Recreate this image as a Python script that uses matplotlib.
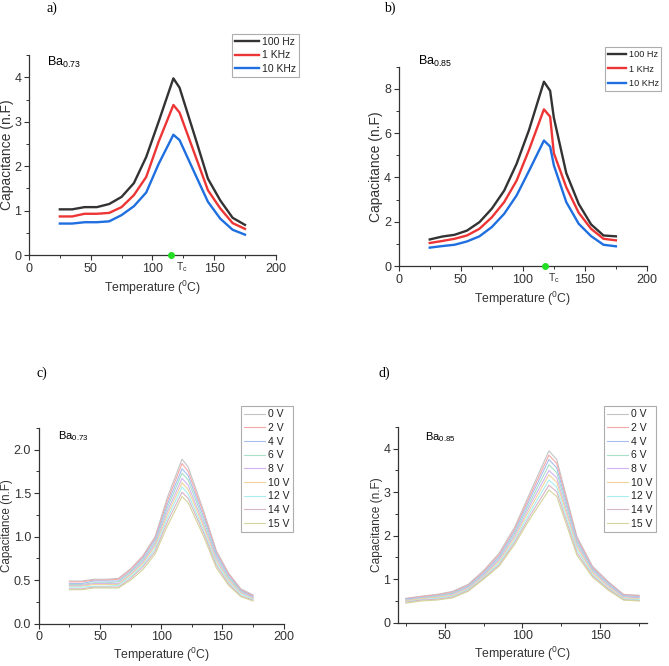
import matplotlib
matplotlib.use("Agg")
from matplotlib import pyplot as plt
from matplotlib.ticker import MultipleLocator

plt.rcParams['font.family'] = ['Liberation Sans', 'DejaVu Sans']
plt.rcParams['mathtext.fontset'] = 'custom'
plt.rcParams['mathtext.rm'] = 'Liberation Sans'
plt.rcParams['mathtext.it'] = 'Liberation Sans'

# temperature points (deg C)
temps = [25, 35, 45, 55, 65, 75, 85, 95, 105, 117, 122, 135, 145, 155, 165, 175]
temps_b = [25, 35, 45, 55, 65, 75, 85, 95, 105, 117, 122, 125, 135, 145, 155, 165, 175]

freq_labels = ['100 Hz', '1 KHz', '10 KHz']
freq_colors = ['#333333', '#ee3535', '#1f6fe0']

# a) Ba0.73, frequency dependence
cap_a_100hz = [1.03, 1.03, 1.08, 1.08, 1.15, 1.31, 1.62, 2.21, 3.00, 3.98, 3.77, 2.62, 1.72, 1.23, 0.84, 0.68]
cap_a_1khz = [0.87, 0.87, 0.93, 0.93, 0.95, 1.08, 1.35, 1.76, 2.55, 3.38, 3.21, 2.22, 1.46, 1.05, 0.72, 0.59]
cap_a_10khz = [0.71, 0.71, 0.74, 0.74, 0.76, 0.90, 1.10, 1.41, 2.05, 2.71, 2.59, 1.80, 1.20, 0.82, 0.57, 0.46]

# b) Ba0.85, frequency dependence
cap_b_100hz = [1.20, 1.33, 1.41, 1.60, 1.98, 2.59, 3.41, 4.62, 6.15, 8.33, 7.92, 6.70, 4.20, 2.81, 1.88, 1.38, 1.34]
cap_b_1khz = [1.04, 1.13, 1.23, 1.38, 1.68, 2.20, 2.89, 3.86, 5.25, 7.08, 6.75, 5.10, 3.56, 2.41, 1.68, 1.23, 1.16]
cap_b_10khz = [0.83, 0.90, 0.96, 1.11, 1.34, 1.76, 2.36, 3.19, 4.30, 5.67, 5.40, 4.55, 2.89, 1.91, 1.35, 0.96, 0.89]

tc_a = 115
tc_b = 118

volt_labels = ['0 V', '2 V', '4 V', '6 V', '8 V', '10 V', '12 V', '14 V', '15 V']
volt_colors = ['#c4c4c4', '#f5a8a8', '#a8bff0', '#a8e0c8', '#d4b4f0',
               '#f2d49c', '#a8eef0', '#d8b4c8', '#d4d49c']

# c) Ba0.73, bias voltage dependence
cap_c = [
    [0.49, 0.49, 0.51, 0.51, 0.52, 0.63, 0.78, 1.00, 1.45, 1.89, 1.80, 1.28, 0.84, 0.58, 0.40, 0.33],
    [0.48, 0.48, 0.50, 0.50, 0.51, 0.62, 0.77, 0.98, 1.41, 1.84, 1.75, 1.25, 0.82, 0.57, 0.39, 0.32],
    [0.46, 0.46, 0.49, 0.49, 0.49, 0.60, 0.75, 0.96, 1.37, 1.78, 1.70, 1.21, 0.80, 0.55, 0.38, 0.31],
    [0.45, 0.45, 0.47, 0.47, 0.48, 0.59, 0.73, 0.93, 1.33, 1.73, 1.65, 1.17, 0.77, 0.53, 0.37, 0.30],
    [0.44, 0.44, 0.46, 0.46, 0.46, 0.57, 0.71, 0.91, 1.29, 1.67, 1.59, 1.13, 0.75, 0.51, 0.36, 0.30],
    [0.43, 0.43, 0.45, 0.45, 0.45, 0.56, 0.69, 0.89, 1.25, 1.62, 1.54, 1.10, 0.72, 0.50, 0.35, 0.29],
    [0.42, 0.42, 0.43, 0.43, 0.44, 0.54, 0.67, 0.86, 1.21, 1.57, 1.49, 1.06, 0.70, 0.48, 0.34, 0.28],
    [0.40, 0.40, 0.42, 0.42, 0.42, 0.52, 0.65, 0.83, 1.17, 1.51, 1.44, 1.03, 0.67, 0.46, 0.32, 0.27],
    [0.39, 0.39, 0.41, 0.41, 0.41, 0.50, 0.62, 0.80, 1.12, 1.46, 1.39, 0.99, 0.64, 0.44, 0.31, 0.26],
]

# d) Ba0.85, bias voltage dependence
cap_d = [
    [0.56, 0.61, 0.65, 0.72, 0.88, 1.20, 1.60, 2.20, 3.00, 3.95, 3.75, 1.98, 1.30, 0.95, 0.65, 0.63],
    [0.55, 0.60, 0.64, 0.70, 0.86, 1.17, 1.56, 2.15, 2.93, 3.85, 3.66, 1.94, 1.27, 0.93, 0.64, 0.62],
    [0.54, 0.58, 0.62, 0.68, 0.84, 1.14, 1.52, 2.10, 2.86, 3.75, 3.56, 1.89, 1.24, 0.91, 0.62, 0.60],
    [0.52, 0.57, 0.61, 0.67, 0.82, 1.11, 1.48, 2.05, 2.78, 3.63, 3.45, 1.84, 1.21, 0.88, 0.60, 0.58],
    [0.51, 0.56, 0.59, 0.65, 0.80, 1.09, 1.45, 2.00, 2.71, 3.50, 3.33, 1.79, 1.18, 0.86, 0.59, 0.57],
    [0.50, 0.55, 0.58, 0.63, 0.78, 1.06, 1.41, 1.95, 2.63, 3.40, 3.23, 1.74, 1.15, 0.83, 0.57, 0.55],
    [0.48, 0.53, 0.56, 0.61, 0.76, 1.04, 1.37, 1.90, 2.55, 3.28, 3.12, 1.68, 1.11, 0.80, 0.55, 0.53],
    [0.47, 0.52, 0.54, 0.59, 0.74, 1.02, 1.33, 1.85, 2.47, 3.16, 3.01, 1.61, 1.08, 0.78, 0.53, 0.51],
    [0.45, 0.50, 0.52, 0.57, 0.72, 1.00, 1.30, 1.80, 2.40, 3.05, 2.90, 1.55, 1.05, 0.75, 0.52, 0.50],
]


def style_axes(ax, xlim, ylim, xmaj, ymaj, ylab_size, xpad=3):
    ax.set_xlim(*xlim)
    ax.set_ylim(*ylim)
    for s in ['top', 'right']:
        ax.spines[s].set_visible(False)
    for s in ['left', 'bottom']:
        ax.spines[s].set_color('#333333')
        ax.spines[s].set_linewidth(0.9)
    ax.xaxis.set_major_locator(MultipleLocator(xmaj))
    ax.xaxis.set_minor_locator(MultipleLocator(xmaj / 2))
    ax.yaxis.set_major_locator(MultipleLocator(ymaj))
    ax.yaxis.set_minor_locator(MultipleLocator(ymaj / 2))
    ax.tick_params(which='major', direction='out', length=3.5, width=0.8,
                   labelsize=9, colors='#333333', pad=2)
    ax.tick_params(which='minor', direction='out', length=2, width=0.7, colors='#333333')
    ax.set_xlabel('Temperature ($^{0}$C)', fontsize=8.8, color='#333333', labelpad=xpad)
    ax.set_ylabel('Capacitance (n.F)', fontsize=ylab_size, color='#333333', labelpad=0.5)


def add_legend(ax, fig, anchor, fs, hl, ls):
    leg = ax.legend(loc='upper left', bbox_to_anchor=anchor, bbox_transform=fig.transFigure,
                    fontsize=fs, frameon=True, fancybox=False, handlelength=hl,
                    handletextpad=0.3, labelspacing=ls, borderpad=0.3,
                    borderaxespad=0)
    leg.get_frame().set_edgecolor('#999999')
    leg.get_frame().set_linewidth(0.8)
    for t in leg.get_texts():
        t.set_color('#222222')
    return leg


fig = plt.figure(figsize=(6.69, 6.66), dpi=100)

ax_a = fig.add_axes([0.0433, 0.617, 0.369, 0.300])
ax_b = fig.add_axes([0.596, 0.6006, 0.371, 0.299])
ax_c = fig.add_axes([0.058, 0.0636, 0.366, 0.294])
ax_d = fig.add_axes([0.595, 0.065, 0.372, 0.294])

# a)
for y, lab, c in zip([cap_a_100hz, cap_a_1khz, cap_a_10khz], freq_labels, freq_colors):
    ax_a.plot(temps, y, color=c, lw=1.7, label=lab)
style_axes(ax_a, (0, 200), (0, 4.5), 50, 1, 10)
ax_a.plot([tc_a], [0], 'o', color='#22dd22', ms=4, clip_on=False, zorder=6)
ax_a.text(tc_a + 4, -0.12, 'T$_c$', fontsize=7.5, color='#333333', va='top', ha='left')
ax_a.text(0.072, 0.965, 'Ba$_{0.73}$', transform=ax_a.transAxes, fontsize=9, va='center')
add_legend(ax_a, fig, (0.347, 0.949), 7.5, 2.3, 0.32)

# b)
for y, lab, c in zip([cap_b_100hz, cap_b_1khz, cap_b_10khz], freq_labels, freq_colors):
    ax_b.plot(temps_b, y, color=c, lw=1.7, label=lab)
style_axes(ax_b, (0, 200), (0, 9), 50, 2, 10)
ax_b.plot([tc_b], [0], 'o', color='#22dd22', ms=4, clip_on=False, zorder=6)
ax_b.text(tc_b + 2, -0.25, 'T$_c$', fontsize=7.5, color='#333333', va='top', ha='left')
ax_b.text(0.077, 1.025, 'Ba$_{0.85}$', transform=ax_b.transAxes, fontsize=9, va='center')
add_legend(ax_b, fig, (0.904, 0.929), 6.6, 2.0, 0.6)

# c)
for y, lab, c in zip(cap_c, volt_labels, volt_colors):
    ax_c.plot(temps, y, color=c, lw=0.8, label=lab)
style_axes(ax_c, (0, 200), (0, 2.25), 50, 0.5, 8.4, xpad=2)
ax_c.text(0.077, 0.96, 'Ba$_{0.73}$', transform=ax_c.transAxes, fontsize=8, va='center')
add_legend(ax_c, fig, (0.360, 0.390), 7.5, 2.0, 0.35)

# d)
for y, lab, c in zip(cap_d, volt_labels, volt_colors):
    ax_d.plot(temps, y, color=c, lw=0.8, label=lab)
style_axes(ax_d, (20, 180), (0, 4.5), 50, 1, 8.6, xpad=2)
ax_d.xaxis.set_minor_locator(MultipleLocator(25))
ax_d.text(0.108, 0.95, 'Ba$_{0.85}$', transform=ax_d.transAxes, fontsize=8, va='center')
add_legend(ax_d, fig, (0.903, 0.390), 7.5, 2.0, 0.35)

# panel letters
for lab, xy in zip(['a)', 'b)', 'c)', 'd)'],
                   [(0.078, 0.988), (0.583, 0.988), (0.063, 0.44), (0.575, 0.44)]):
    fig.text(xy[0], xy[1], lab, fontsize=10, family='Liberation Serif',
             ha='center', va='center')

fig.savefig('out.png', dpi=100)
